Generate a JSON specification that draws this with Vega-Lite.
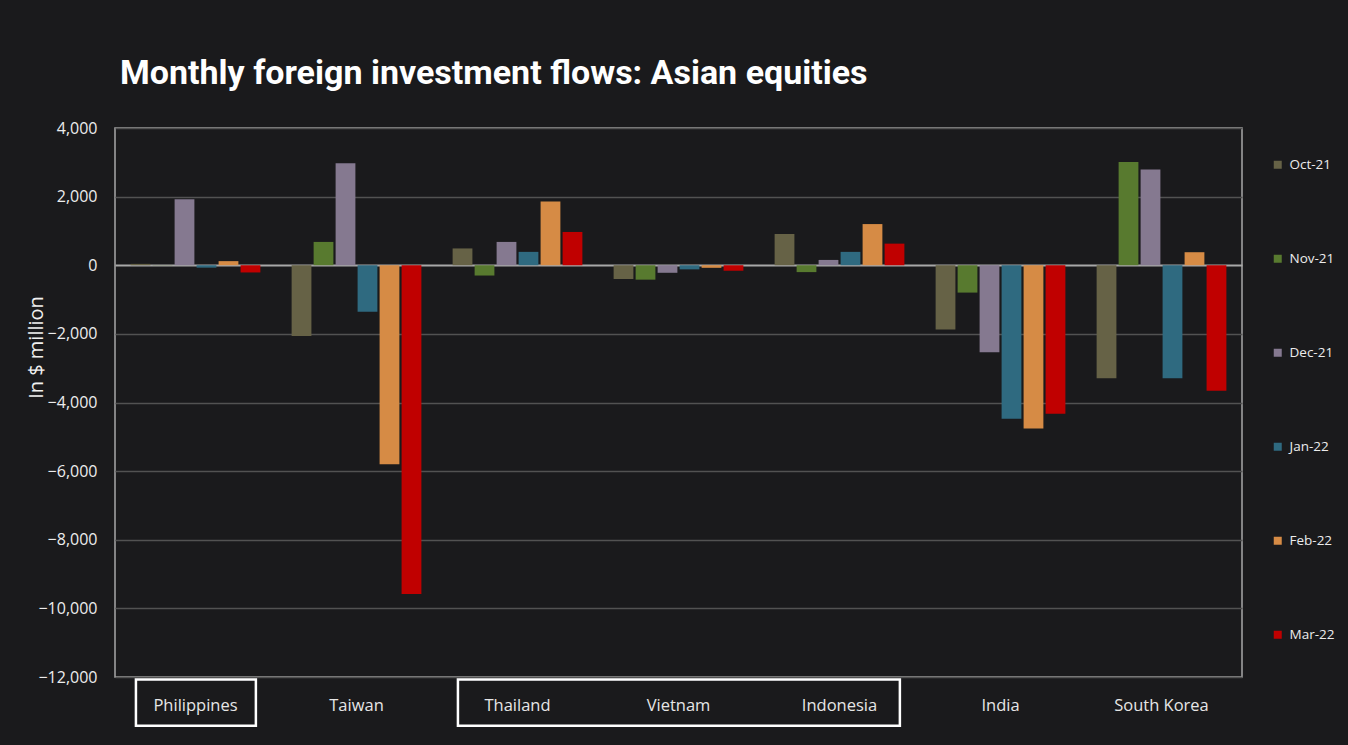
{
  "$schema": "https://vega.github.io/schema/vega-lite/v6.json",
  "width": 1127,
  "height": 549,
  "autosize": {"type": "none"},
  "padding": {"left": 115, "top": 128, "right": 106, "bottom": 68},
  "background": "#1a1a1c",
  "title": {
    "text": "Monthly foreign investment flows: Asian equities",
    "anchor": "start",
    "frame": "group",
    "color": "#ffffff",
    "font": "Roboto",
    "fontSize": 34,
    "fontWeight": "bold",
    "baseline": "alphabetic",
    "offset": 2,
    "dx": 5
  },
  "config": {
    "view": {"stroke": "#a8a8a8", "strokeWidth": 1.5},
    "font": "Open Sans"
  },
  "datasets": {
    "flows": [
      {"country": "Philippines", "month": "Oct-21", "value": 40},
      {"country": "Philippines", "month": "Nov-21", "value": 5},
      {"country": "Philippines", "month": "Dec-21", "value": 1920},
      {"country": "Philippines", "month": "Jan-22", "value": -70},
      {"country": "Philippines", "month": "Feb-22", "value": 120},
      {"country": "Philippines", "month": "Mar-22", "value": -210},
      {"country": "Taiwan", "month": "Oct-21", "value": -2060},
      {"country": "Taiwan", "month": "Nov-21", "value": 680},
      {"country": "Taiwan", "month": "Dec-21", "value": 2970},
      {"country": "Taiwan", "month": "Jan-22", "value": -1355},
      {"country": "Taiwan", "month": "Feb-22", "value": -5800},
      {"country": "Taiwan", "month": "Mar-22", "value": -9580},
      {"country": "Thailand", "month": "Oct-21", "value": 490},
      {"country": "Thailand", "month": "Nov-21", "value": -300},
      {"country": "Thailand", "month": "Dec-21", "value": 680},
      {"country": "Thailand", "month": "Jan-22", "value": 390},
      {"country": "Thailand", "month": "Feb-22", "value": 1855},
      {"country": "Thailand", "month": "Mar-22", "value": 970},
      {"country": "Vietnam", "month": "Oct-21", "value": -400},
      {"country": "Vietnam", "month": "Nov-21", "value": -420},
      {"country": "Vietnam", "month": "Dec-21", "value": -220},
      {"country": "Vietnam", "month": "Jan-22", "value": -120},
      {"country": "Vietnam", "month": "Feb-22", "value": -75},
      {"country": "Vietnam", "month": "Mar-22", "value": -160},
      {"country": "Indonesia", "month": "Oct-21", "value": 910},
      {"country": "Indonesia", "month": "Nov-21", "value": -200},
      {"country": "Indonesia", "month": "Dec-21", "value": 155},
      {"country": "Indonesia", "month": "Jan-22", "value": 390},
      {"country": "Indonesia", "month": "Feb-22", "value": 1200},
      {"country": "Indonesia", "month": "Mar-22", "value": 630},
      {"country": "India", "month": "Oct-21", "value": -1875},
      {"country": "India", "month": "Nov-21", "value": -797},
      {"country": "India", "month": "Dec-21", "value": -2536},
      {"country": "India", "month": "Jan-22", "value": -4470},
      {"country": "India", "month": "Feb-22", "value": -4760},
      {"country": "India", "month": "Mar-22", "value": -4325},
      {"country": "South Korea", "month": "Oct-21", "value": -3290},
      {"country": "South Korea", "month": "Nov-21", "value": 3010},
      {"country": "South Korea", "month": "Dec-21", "value": 2790},
      {"country": "South Korea", "month": "Jan-22", "value": -3290},
      {"country": "South Korea", "month": "Feb-22", "value": 380},
      {"country": "South Korea", "month": "Mar-22", "value": -3660}
    ],
    "highlights": [
      {"from": "Philippines", "to": "Philippines", "top": -12070, "bottom": -13420},
      {"from": "Thailand", "to": "Indonesia", "top": -12070, "bottom": -13420}
    ]
  },
  "layer": [
    {
      "data": {"name": "flows"},
      "mark": {"type": "bar"},
      "encoding": {
        "x": {
          "field": "country",
          "type": "nominal",
          "scale": {
            "domain": ["Philippines", "Taiwan", "Thailand", "Vietnam", "Indonesia", "India", "South Korea"],
            "paddingInner": 0,
            "paddingOuter": 0
          },
          "axis": {
            "title": null,
            "labelAngle": 0,
            "ticks": false,
            "domain": false,
            "grid": false,
            "labelPadding": 20,
            "labelFontSize": 16.5,
            "labelColor": "#e6e6e6",
            "labelFont": "Open Sans"
          }
        },
        "xOffset": {
          "field": "month",
          "type": "nominal",
          "sort": ["Oct-21", "Nov-21", "Dec-21", "Jan-22", "Feb-22", "Mar-22"],
          "scale": {"paddingInner": 0.1, "paddingOuter": 0.71}
        },
        "y": {
          "field": "value",
          "type": "quantitative",
          "scale": {"domain": [-12000, 4000], "nice": false, "zero": true},
          "axis": {
            "title": "In $ million",
            "values": [-12000, -10000, -8000, -6000, -4000, -2000, 0, 2000, 4000],
            "format": ",d",
            "ticks": false,
            "domain": false,
            "labelPadding": 18,
            "labelFontSize": 16,
            "labelColor": "#ececec",
            "labelFont": "Open Sans",
            "gridColor": {"condition": {"test": "datum.value === 0", "value": "#a8a8a8"}, "value": "#525252"},
            "gridWidth": {"condition": {"test": "datum.value === 0", "value": 2}, "value": 1.5},
            "titleColor": "#f0f0f0",
            "titleFontSize": 20,
            "titleFontWeight": "normal",
            "titleFont": "Open Sans",
            "titleX": -69,
            "titleY": 219
          }
        },
        "color": {
          "field": "month",
          "type": "nominal",
          "sort": ["Oct-21", "Nov-21", "Dec-21", "Jan-22", "Feb-22", "Mar-22"],
          "scale": {
            "domain": ["Oct-21", "Nov-21", "Dec-21", "Jan-22", "Feb-22", "Mar-22"],
            "range": ["#666246", "#587a2f", "#857990", "#2f6a80", "#d68b45", "#c00000"]
          },
          "legend": {
            "title": null,
            "orient": "none",
            "legendX": 1156,
            "legendY": 30,
            "symbolType": "square",
            "symbolSize": 64,
            "symbolStrokeWidth": 0,
            "labelFontSize": 13.5,
            "labelColor": "#ececec",
            "labelFont": "Open Sans",
            "labelOffset": 5,
            "rowPadding": 79
          }
        }
      }
    },
    {
      "data": {"name": "highlights"},
      "mark": {"type": "rect", "fill": "transparent", "stroke": "#ffffff", "strokeWidth": 2.5},
      "encoding": {
        "x": {
          "field": "from",
          "type": "nominal",
          "bandPosition": 0.13,
          "scale": {
            "domain": ["Philippines", "Taiwan", "Thailand", "Vietnam", "Indonesia", "India", "South Korea"]
          }
        },
        "x2": {"field": "to", "bandPosition": 0.875},
        "y": {"field": "top", "type": "quantitative"},
        "y2": {"field": "bottom"}
      }
    }
  ]
}
